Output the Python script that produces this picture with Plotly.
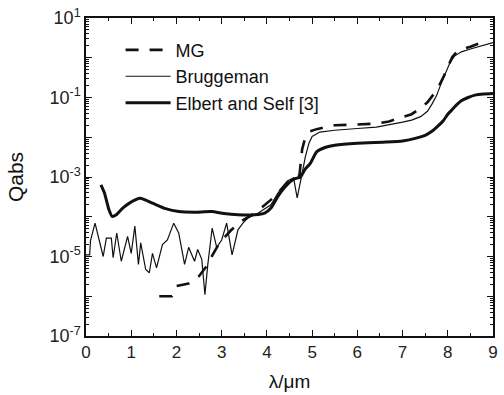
import plotly.graph_objects as go

# ---- data ----
mg_x = [1.62, 1.90, 2.00, 2.27, 2.50, 2.66, 2.80, 2.95, 3.20, 3.45, 3.75, 3.97, 4.17,
        4.40, 4.60, 4.72, 4.78, 4.85, 4.95, 5.10, 5.50, 6.00, 6.42, 6.70, 7.00, 7.20,
        7.40, 7.55, 7.70, 7.80, 7.90, 8.00, 8.10, 8.20, 8.34, 8.50, 8.65, 8.78, 8.89]
mg_y = [1.0e-6, 1.0e-6, 1.8e-6, 2.1e-6, 3.2e-6, 5.6e-6, 1.1e-5, 2.2e-5, 4.5e-5, 8.0e-5,
        1.26e-4, 2.0e-4, 3.2e-4, 6.3e-4, 9.5e-4, 1.1e-3, 5.0e-3, 1.0e-2, 1.4e-2, 1.6e-2,
        2.0e-2, 2.1e-2, 2.2e-2, 2.5e-2, 3.2e-2, 3.8e-2, 5.4e-2, 7.6e-2, 0.126, 0.19,
        0.32, 0.56, 1.05, 1.41, 1.66, 1.9, 2.2, 2.5, 2.3]

br_x = [0.00, 0.08, 0.10, 0.20, 0.38, 0.45, 0.56, 0.60, 0.68, 0.78, 0.92, 1.00, 1.08,
        1.16, 1.21, 1.32, 1.40, 1.47, 1.56, 1.69, 1.80, 1.94, 2.05, 2.18, 2.27, 2.40,
        2.47, 2.56, 2.63, 2.69, 2.79, 2.89, 3.00, 3.11, 3.23, 3.36, 3.47, 3.58, 3.80,
        4.09, 4.24, 4.45, 4.59, 4.67, 4.78, 4.85, 4.93, 5.00, 5.17, 5.50, 6.00, 6.42,
        7.00, 7.20, 7.40, 7.55, 7.65, 7.75, 7.85, 7.95, 8.05, 8.15, 8.30, 8.50, 8.75,
        9.00]
br_y = [1.1e-5, 1.1e-5, 2.5e-5, 6.9e-5, 1.0e-5, 2.9e-5, 2.9e-5, 9.3e-6, 3.9e-5, 7.6e-6,
        3.2e-5, 1.2e-5, 5.8e-5, 6.3e-6, 2.2e-5, 4.7e-6, 3.9e-6, 1.2e-5, 5.2e-6, 2.0e-5,
        2.6e-5, 6.9e-5, 3.9e-5, 6.3e-6, 1.7e-5, 7.6e-6, 1.5e-5, 8.5e-6, 1.1e-6, 5.8e-6,
        5.2e-5, 1.7e-5, 2.6e-5, 6.9e-5, 1.1e-5, 4.7e-5, 6.9e-5, 9.3e-5, 1.23e-4,
        2.0e-4, 3.9e-4, 7.9e-4, 9.5e-4, 3.0e-4, 1.26e-3, 3.2e-3, 7.1e-3, 1.05e-2,
        1.35e-2, 1.5e-2, 1.66e-2, 1.8e-2, 2.4e-2, 2.7e-2, 3.3e-2, 4.5e-2, 6.8e-2, 0.11,
        0.22, 0.42, 0.76, 1.1, 1.41, 1.66, 2.0, 2.4]

el_x = [0.33, 0.41, 0.50, 0.58, 0.67, 0.80, 0.96, 1.20, 1.47, 1.76, 2.05, 2.40, 2.78,
        3.05, 3.36, 3.73, 3.95, 4.09, 4.24, 4.40, 4.60, 4.74, 4.85, 4.96, 5.10, 5.30,
        5.50, 6.00, 6.64, 7.00, 7.30, 7.50, 7.65, 7.78, 7.90, 8.00, 8.10, 8.20, 8.30,
        8.45, 8.60, 8.80, 9.00]
el_y = [6.3e-4, 3.9e-4, 1.6e-4, 1.02e-4, 1.12e-4, 1.6e-4, 2.2e-4, 2.9e-4, 2.2e-4,
        1.6e-4, 1.35e-4, 1.3e-4, 1.35e-4, 1.2e-4, 1.12e-4, 1.12e-4, 1.23e-4, 1.66e-4,
        3.2e-4, 5.6e-4, 8.9e-4, 1.0e-3, 1.6e-3, 2.2e-3, 4.3e-3, 5.6e-3, 6.3e-3, 7.1e-3,
        7.6e-3, 8.1e-3, 9.5e-3, 1.12e-2, 1.41e-2, 1.9e-2, 2.6e-2, 3.8e-2, 5.0e-2,
        6.6e-2, 8.3e-2, 0.10, 0.115, 0.123, 0.126]

series_names = ["MG", "Bruggeman", "Elbert and Self [3]"]

x_tick_vals = [0, 1, 2, 3, 4, 5, 6, 7, 8, 9]
y_exponents = [-7, -6, -5, -4, -3, -2, -1, 0, 1]
y_tick_text = ["10<sup>-7</sup>", "", "10<sup>-5</sup>", "", "10<sup>-3</sup>", "",
               "10<sup>-1</sup>", "", "10<sup>1</sup>"]

FONT = "Arial, Liberation Sans, Helvetica, sans-serif"
INK = "#111111"

fig = go.Figure()
fig.add_trace(go.Scatter(x=mg_x, y=mg_y, mode="lines", name=series_names[0],
                         line=dict(color=INK, width=2.6, dash="13px,11px")))
fig.add_trace(go.Scatter(x=br_x, y=br_y, mode="lines", name=series_names[1],
                         line=dict(color=INK, width=1.2)))
fig.add_trace(go.Scatter(x=el_x, y=el_y, mode="lines", name=series_names[2],
                         line=dict(color=INK, width=3, shape="spline", smoothing=0.5)))

y_tick_vals = [10.0 ** e for e in y_exponents]
y_minor_vals = [k * 10.0 ** e for e in y_exponents[:-1] for k in range(2, 10)]

fig.update_layout(
    width=504, height=395,
    margin=dict(l=86, r=6, t=17, b=57),
    paper_bgcolor="white", plot_bgcolor="white",
    font=dict(family=FONT, color=INK, size=17),
    showlegend=True,
    legend=dict(x=0.085, y=0.957, xanchor="left", yanchor="top",
                bgcolor="rgba(0,0,0,0)", borderwidth=0,
                font=dict(size=18, family=FONT, color=INK),
                tracegroupgap=0, itemwidth=45),
    xaxis=dict(range=[0, 9], tickvals=x_tick_vals, ticks="inside", ticklen=6,
               tickwidth=1.3, tickcolor=INK,
               showline=True, linecolor=INK, linewidth=1.5, mirror="ticks",
               showgrid=False, zeroline=False,
               tickfont=dict(size=17, family=FONT, color="#222"),
               minor=dict(dtick=0.5, tick0=0, ticks="inside", ticklen=3,
                          tickcolor=INK, showgrid=False),
               title=dict(text="λ/μm", font=dict(size=19, family=FONT, color=INK),
                          standoff=14)),
    yaxis=dict(type="log", range=[-7, 1], tickvals=y_tick_vals, ticktext=y_tick_text,
               ticks="inside", ticklen=6, tickwidth=1.3, tickcolor=INK,
               showline=True, linecolor=INK, linewidth=1.5, mirror="ticks",
               showgrid=False, zeroline=False,
               tickfont=dict(size=18, family=FONT, color="#222"),
               minor=dict(tickvals=y_minor_vals, ticks="inside", ticklen=3,
                          tickcolor=INK, showgrid=False),
               title=dict(text="Qabs", font=dict(size=21, family=FONT, color=INK),
                          standoff=20)),
)

fig.write_html("out.html")
